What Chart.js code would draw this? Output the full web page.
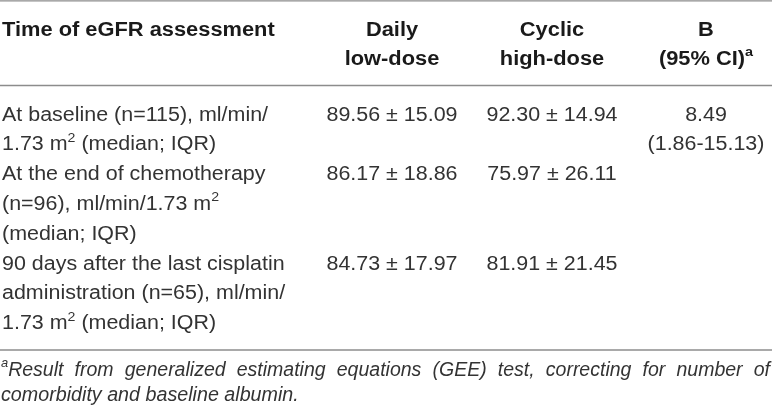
<!DOCTYPE html>
<html>
<head>
<meta charset="utf-8">
<script src="https://cdn.jsdelivr.net/npm/chart.js@4.4.0/dist/chart.umd.min.js"></script>
<style>
  html, body { margin: 0; padding: 0; background: #fff; }
  #wrap { width: 772px; height: 411px; }
</style>
</head>
<body>
<div id="wrap"><canvas id="myChart" width="772" height="411"></canvas></div>
<script>
// table content, "^" marks the next character as superscript
var columns = [
    ['Time of eGFR assessment'],
    ['Daily', 'low-dose'],
    ['Cyclic', 'high-dose'],
    ['B', '(95% CI)^a']
];
var timepoints = [
    ['At baseline (n=115), ml/min/', '1.73 m^2 (median; IQR)'],
    ['At the end of chemotherapy', '(n=96), ml/min/1.73 m^2', '(median; IQR)'],
    ['90 days after the last cisplatin', 'administration (n=65), ml/min/', '1.73 m^2 (median; IQR)']
];
var dailyMean = [89.56, 86.17, 84.73];
var dailySd = [15.09, 18.86, 17.97];
var cyclicMean = [92.30, 75.97, 81.91];
var cyclicSd = [14.94, 26.11, 21.45];
var bEstimate = [8.49, null, null];
var bLower = [1.86, null, null];
var bUpper = [15.13, null, null];
var footnote = [
    '^aResult from generalized estimating equations (GEE) test, correcting for number of',
    'comorbidity and baseline albumin.'
];

// layout (in scale units == pixels)
var FS = 19.5;
var SX = 1.1;
var HSX = 1.12;
var colLeft = 2;
var colCenters = [392, 552, 706];
var headBase = [35.5, 65];
var bodyBase = 120.5;
var lineH = 29.8;
var rules = [0.8, 85.5, 350];
var footBase = [376, 400.5];

function parts(str) {
    var out = [];
    var bits = str.split('^');
    if (bits[0]) out.push({t: bits[0], sup: false});
    for (var i = 1; i < bits.length; i++) {
        out.push({t: bits[i].charAt(0), sup: true});
        if (bits[i].length > 1) out.push({t: bits[i].slice(1), sup: false});
    }
    return out;
}

function fonts(weight, style, size) {
    return {
        main: style + ' ' + weight + ' ' + size + 'px "Liberation Sans", Arial, sans-serif',
        sup: style + ' ' + weight + ' ' + (size * 0.66).toFixed(1) + 'px "Liberation Sans", Arial, sans-serif'
    };
}

function richWidth(ctx, segs, f) {
    var w = 0;
    segs.forEach(function (s) {
        ctx.font = s.sup ? f.sup : f.main;
        w += ctx.measureText(s.t).width;
    });
    return w;
}

function drawRich(ctx, str, x, y, align, f, sx) {
    var segs = parts(str);
    var w = richWidth(ctx, segs, f) * sx;
    var start = align === 'center' ? x - w / 2 : x;
    ctx.save();
    ctx.translate(start, y);
    ctx.scale(sx, 1);
    ctx.textAlign = 'left';
    ctx.textBaseline = 'alphabetic';
    var cx = 0;
    segs.forEach(function (s) {
        ctx.font = s.sup ? f.sup : f.main;
        ctx.fillText(s.t, cx, s.sup ? -FS * 0.44 : 0);
        cx += ctx.measureText(s.t).width;
    });
    ctx.restore();
}

function drawJustified(ctx, str, x0, x1, y, f) {
    var words = str.split(' ');
    var widths = words.map(function (wd) { return richWidth(ctx, parts(wd), f); });
    var total = widths.reduce(function (a, b) { return a + b; }, 0);
    var gap = (x1 - x0 - total) / (words.length - 1);
    var cx = x0;
    words.forEach(function (wd, i) {
        drawRich(ctx, wd, cx, y, 'left', f, 1);
        cx += widths[i] + gap;
    });
}

var tablePlugin = {
    id: 'tablePlugin',
    afterDraw: function (chart) {
        var ctx = chart.ctx;
        var xs = chart.scales.x, ys = chart.scales.y;
        var px = function (v) { return xs.getPixelForValue(v); };
        var py = function (v) { return ys.getPixelForValue(v); };

        // rules
        ctx.save();
        ctx.strokeStyle = '#8c8c8c';
        ctx.lineWidth = 1.3;
        rules.forEach(function (r) {
            ctx.beginPath();
            ctx.moveTo(px(0), py(r));
            ctx.lineTo(px(772), py(r));
            ctx.stroke();
        });
        ctx.restore();

        // header
        var hf = fonts('bold', 'normal', FS);
        ctx.fillStyle = '#1a1a1a';
        columns.forEach(function (lines, c) {
            lines.forEach(function (ln, i) {
                if (c === 0) drawRich(ctx, ln, px(colLeft), py(headBase[i]), 'left', hf, HSX);
                else drawRich(ctx, ln, px(colCenters[c - 1]), py(headBase[i]), 'center', hf, HSX);
            });
        });

        // body
        var bf = fonts('normal', 'normal', FS);
        ctx.fillStyle = '#333333';
        var line = 0;
        timepoints.forEach(function (lines, r) {
            var y0 = bodyBase + line * lineH;
            lines.forEach(function (ln, i) {
                drawRich(ctx, ln, px(colLeft), py(y0 + i * lineH), 'left', bf, SX);
            });
            drawRich(ctx, dailyMean[r].toFixed(2) + ' \u00b1 ' + dailySd[r].toFixed(2),
                px(colCenters[0]), py(y0), 'center', bf, SX);
            drawRich(ctx, cyclicMean[r].toFixed(2) + ' \u00b1 ' + cyclicSd[r].toFixed(2),
                px(colCenters[1]), py(y0), 'center', bf, SX);
            if (bEstimate[r] !== null) {
                drawRich(ctx, bEstimate[r].toFixed(2), px(colCenters[2]), py(y0), 'center', bf, SX);
                drawRich(ctx, '(' + bLower[r].toFixed(2) + '-' + bUpper[r].toFixed(2) + ')',
                    px(colCenters[2]), py(y0 + lineH), 'center', bf, SX);
            }
            line += lines.length;
        });

        // footnote
        var ff = fonts('normal', 'italic', FS);
        ctx.fillStyle = '#333333';
        drawJustified(ctx, footnote[0], px(1), px(770), py(footBase[0]), ff);
        drawRich(ctx, footnote[1], px(1), py(footBase[1]), 'left', ff, 1.01);
    }
};

var ctx = document.getElementById('myChart').getContext('2d');
var myChart = new Chart(ctx, {
    type: 'scatter',
    data: { datasets: [] },
    options: {
        responsive: false,
        animation: false,
        layout: { padding: 0 },
        plugins: { legend: { display: false }, tooltip: { enabled: false } },
        scales: {
            x: { type: 'linear', min: 0, max: 772, display: false },
            y: { type: 'linear', min: 0, max: 411, reverse: true, display: false }
        }
    },
    plugins: [tablePlugin]
});
</script>
</body>
</html>
